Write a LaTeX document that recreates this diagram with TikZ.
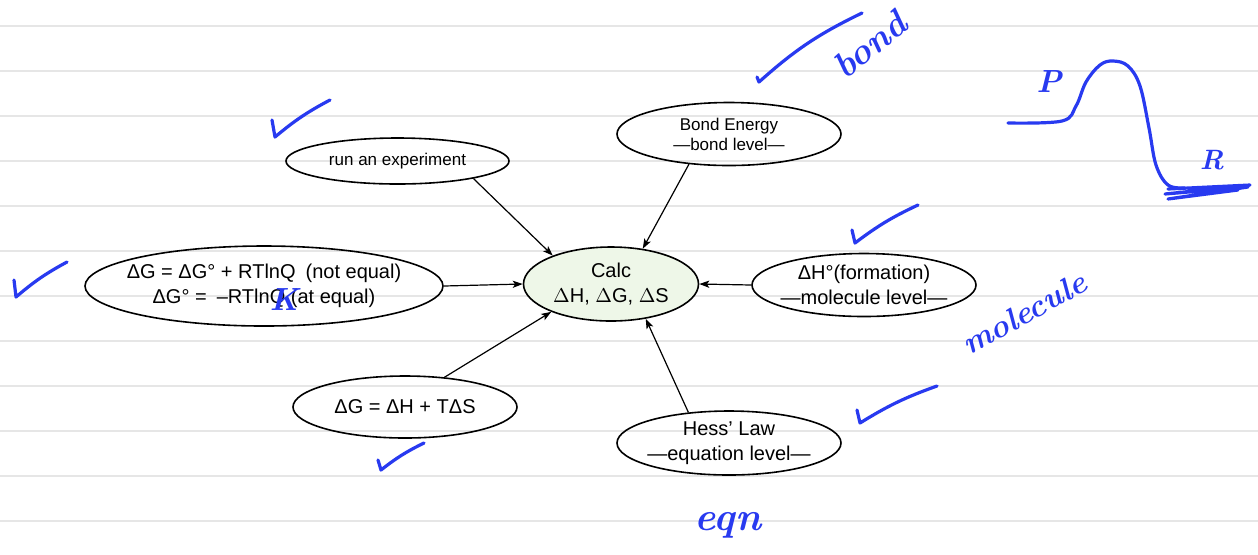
\documentclass[tikz,border=0pt]{standalone}
\usepackage{fontspec}
\usepackage{tikz}
\newfontfamily\helv{Liberation Sans}
\usetikzlibrary{arrows.meta}
\usetikzlibrary{shapes.geometric}
\definecolor{pen}{RGB}{40,58,240}
\definecolor{ruling}{RGB}{230,230,230}
\definecolor{calcgreen}{RGB}{238,247,232}

\begin{document}
\begin{tikzpicture}[x=0.5pt, y=-0.5pt,
    bubble/.style={draw, ellipse, line width=0.8pt, inner xsep=-20pt, inner ysep=-3pt, align=center,
      font=\helv\fontsize{10}{12.5}\selectfont},
    small/.style={font=\helv\fontsize{8.5}{10}\selectfont},
    link/.style={-{Stealth[length=5pt, width=3.6pt, inset=1.2pt]}, line width=0.6pt},
    hand/.style={pen, line width=1.6pt, line cap=round, line join=round},
    handtext/.style={pen, inner sep=0pt, font=\bfseries\itshape}]
    \useasboundingbox[fill=white] (0,0) rectangle (1258,554);
    \foreach \y in {26,71,...,521}
      \draw [ruling, line width=1pt] (0,\y) -- (1258,\y);

    \node [bubble, fill=calcgreen, minimum width=87.5pt, minimum height=37pt] (calc) at (611,284) {Calc\\$\Delta$H, $\Delta$G, $\Delta$S};
    \node [bubble, small, minimum width=111.5pt, minimum height=23pt] (exp) at (397.5,161) {run an experiment};
    \node [bubble, small, minimum width=112pt, minimum height=31.5pt] (bond) at (729,134) {Bond Energy\\—bond level—};
    \node [bubble, minimum width=112pt, minimum height=31.5pt] (form) at (864,285) {ΔH°(formation)\\—molecule level—};
    \node [bubble, minimum width=112pt, minimum height=32pt] (hess) at (729,443) {Hess’ Law\\—equation level—};
    \node [bubble, minimum width=112pt, minimum height=31pt] (gibbs) at (405,407) {ΔG = ΔH + TΔS};
    \node [bubble, minimum width=179pt, minimum height=40pt] (equil) at (264,286) {ΔG = ΔG° + RTlnQ\enspace(not equal)\\ΔG° =\enspace–RTlnQ (at equal)};

    \draw [link] (exp.-13) -- (calc.154);
    \draw [link] (bond.-143) -- (calc.48);
    \draw [link] (form.west) -- (calc.east);
    \draw [link] (hess.143) -- (calc.-45);
    \draw [link] (gibbs.37) -- (calc.-155);
    \draw [link] (equil.east) -- (calc.west);

    \draw [hand] (272,120) -- (275,137) to[bend left=6] (330,100);
    \draw [hand] (14,280) -- (16,297) to[bend left=6] (67,262);
    \draw [hand] (757,77) -- (759,82) to[bend left=8] (862,13);
    \draw [hand] (852,230) -- (855,243) to[bend left=6] (918,205);
    \draw [hand] (857,410) -- (860,423) to[bend left=6] (937,386);
    \draw [hand] (378,460) -- (381,470) to[bend left=6] (424,443);

    \node [handtext, font=\bfseries\itshape\fontsize{16}{16}\selectfont] (kmark) at (284,300) {K};
    \node [handtext, rotate=39, font=\bfseries\itshape\fontsize{18}{18}\selectfont] (bondword) at (870,45) {bond};
    \node [handtext, rotate=29, font=\bfseries\itshape\fontsize{16}{16}\selectfont] (molword) at (1024,313) {molecule};
    \node [handtext, font=\bfseries\itshape\fontsize{20}{20}\selectfont] (eqnword) at (728,525) {eqn};
    \node [handtext, font=\bfseries\itshape\fontsize{16}{16}\selectfont] (pword) at (1049,82) {P};
    \node [handtext, font=\bfseries\itshape\fontsize{14}{14}\selectfont] (rword) at (1212,160) {R};

    \draw [hand] plot [smooth, tension=0.6] coordinates {(1008,123) (1062,121) (1076,106) (1086,82) (1100,65) (1113,61) (1128,66) (1140,86) (1149,128) (1156,165) (1168,185) (1185,188)};
    \draw [hand] (1168,189) -- (1250,185) -- (1165,194) -- (1248,187) -- (1168,199) -- (1238,190);
  \end{tikzpicture}
\end{document}
